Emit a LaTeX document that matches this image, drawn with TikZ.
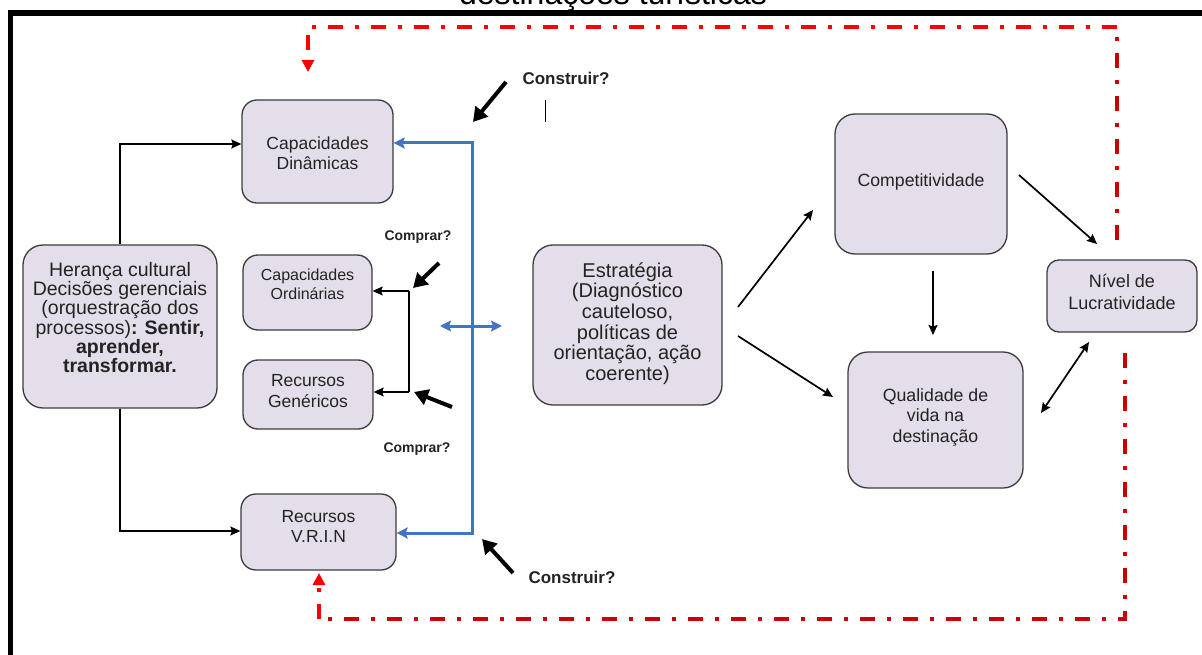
\documentclass[tikz,border=0pt]{standalone}
\usepackage{fontspec}
\setmainfont{Liberation Sans}
\usetikzlibrary{arrows.meta}
\definecolor{boxfill}{RGB}{227,222,234}
\definecolor{boxdraw}{RGB}{60,60,60}
\definecolor{textcol}{RGB}{35,35,35}
\definecolor{bluel}{RGB}{68,114,196}
\definecolor{redA}{RGB}{255,0,0}
\definecolor{redB}{RGB}{204,0,0}
\tikzset{
  box/.style={draw=boxdraw, line width=1.3pt, fill=boxfill, rounded corners=15pt, inner sep=0pt},
  txt/.style={text=textcol, align=center, inner sep=0pt},
  fs/.style 2 args={font=\fontsize{#1}{#2}\selectfont},
  thinarrow/.style={line width=1.7pt, -{Stealth[length=10pt,width=9pt,inset=1.5pt]}},
  thinline/.style={line width=1.3pt},
  bigarrow/.style={line width=4pt, -{Triangle[length=14pt,width=16pt]}},
  bluearrow/.style={draw=bluel, line width=3pt, {Stealth[length=11pt,width=11pt,inset=2pt]}-{Stealth[length=11pt,width=11pt,inset=2pt]}},
  redline/.style={line width=3.6pt, dash pattern=on 15pt off 12pt on 4pt off 12pt},
  redtip/.style={-{Triangle[length=12pt,width=12pt]}},
  lbl/.style={text=textcol, inner sep=0pt}
}
\begin{document}
\begin{tikzpicture}[x=1pt,y=-1pt]
\useasboundingbox (0,0) rectangle (1202,655);
\clip (0,0) rectangle (1202,655);
\fill[white] (0,0) rectangle (1202,655);

% caption (cut off) and frame
\node[anchor=base, inner sep=0pt, fs={32}{32}] (caption) at (613,5) {destinações turísticas};
\fill[black] (8,10) rectangle (1202,16);
\fill[black] (8,10) rectangle (13,655);

% boxes
\node[box, minimum width=151pt, minimum height=103pt] (capdin) at (317.5,151.5) {};
\node[box, minimum width=129pt, minimum height=75pt] (capord) at (307.5,292.5) {};
\node[box, minimum width=130pt, minimum height=69pt] (recgen) at (308,394.5) {};
\node[box, minimum width=155pt, minimum height=76pt] (vrin) at (318.5,532) {};
\node[box, rounded corners=20pt, minimum width=194pt, minimum height=163pt] (heranca) at (120,326.5) {};
\node[box, rounded corners=20pt, minimum width=189pt, minimum height=160pt] (estr) at (627.5,325) {};
\node[box, rounded corners=20pt, minimum width=172pt, minimum height=140pt] (comp) at (921,184) {};
\node[box, rounded corners=20pt, minimum width=175pt, minimum height=136pt] (qual) at (935.5,420) {};
\node[box, rounded corners=12pt, minimum width=150pt, minimum height=72pt] (nivel) at (1122,296) {};

% box texts
\node[txt, fs={17.5}{20}] (tcapdin) at (317.5,153) {Capacidades\\Dinâmicas};
\node[txt, fs={16}{19}] (tcapord) at (307.5,284.5) {Capacidades\\Ordinárias};
\node[txt, fs={17.5}{21}] (trecgen) at (308,391.5) {Recursos\\Genéricos};
\node[txt, fs={17.5}{20}] (tvrin) at (318.5,526) {Recursos\\V.R.I.N};
\node[txt, fs={19.5}{19.2}] (theranca) at (120,317.5) {Herança cultural\\Decisões gerenciais\\(orquestração dos\\processos)\textbf{: Sentir,}\\\textbf{aprender,}\\\textbf{transformar.}};
\node[txt, fs={20}{20.7}] (testr) at (627.5,323.5) {Estratégia\\(Diagnóstico\\cauteloso,\\políticas de\\orientação, ação\\coerente)};
\node[txt, fs={17.7}{20}] (tcomp) at (921,182) {Competitividade};
\node[txt, fs={17.7}{20.5}] (tqual) at (935.5,417) {Qualidade de\\vida na\\destinação};
\node[txt, fs={18}{22}] (tnivel) at (1122,292) {Nível de\\Lucratividade};

% labels
\node[lbl, font=\fontsize{14}{16}\selectfont\bfseries] (comprar1) at (418,237) {Comprar?};
\node[lbl, font=\fontsize{14}{16}\selectfont\bfseries] (comprar2) at (417,449) {Comprar?};
\node[lbl, font=\fontsize{17}{19}\selectfont\bfseries] (construir1) at (566,78) {Construir?};
\node[lbl, font=\fontsize{17}{19}\selectfont\bfseries] (construir2) at (572,577) {Construir?};

% coordinates
\coordinate (cursorT) at (545,100);
\coordinate (cursorB) at (545,122);
\coordinate (bluex) at (472,330);
\coordinate (bl) at (440,326);
\coordinate (br) at (502,326);
\coordinate (brT) at (409,291);
\coordinate (brB) at (409,392);
\coordinate (kc1s) at (439,263); \coordinate (kc1e) at (413,288);
\coordinate (kc2s) at (452,407); \coordinate (kc2e) at (414,392);
\coordinate (ks1s) at (506,82);  \coordinate (ks1e) at (473,122);
\coordinate (ks2s) at (513,573); \coordinate (ks2e) at (482,539);
\coordinate (e1s) at (738,307);  \coordinate (e1e) at (813,210);
\coordinate (e2s) at (738,336);  \coordinate (e2e) at (833,397);
\coordinate (c1s) at (933,271);  \coordinate (c1e) at (933,335);
\coordinate (c2s) at (1019,175); \coordinate (c2e) at (1097,244);
\coordinate (q1s) at (1041,413); \coordinate (q1e) at (1089,342);
\coordinate (r1) at (1117,240);
\coordinate (r2) at (1117,27);
\coordinate (r3) at (308,27);
\coordinate (r4) at (308,72);
\coordinate (s1) at (1125,353);
\coordinate (s2) at (1125,619);
\coordinate (s3) at (319,619);
\coordinate (s4) at (319,573);

% cursor mark
\draw[line width=1pt] (cursorT) -- (cursorB);

% Herança connectors
\draw[thinarrow, line width=1.3pt] (heranca.north) |- ([yshift=7.5pt]capdin.west);
\draw[thinarrow, line width=1.3pt] (heranca.south) |- ([yshift=1pt]vrin.west);

% blue connectors
\draw[bluearrow] ([yshift=8.5pt]capdin.east) -| (bluex) |- ([yshift=-1pt]vrin.east);
\draw[bluearrow] (bl) -- (br);

% bracket
\draw[thinline] (brT) -- (brB);
\draw[thinarrow, line width=1.3pt] (brT) -- (capord.east |- brT);
\draw[thinarrow, line width=1.3pt] (brB) -- (recgen.east |- brB);

% thick arrows
\draw[bigarrow] (kc1s) -- (kc1e);
\draw[bigarrow] (kc2s) -- (kc2e);
\draw[bigarrow] (ks1s) -- (ks1e);
\draw[bigarrow] (ks2s) -- (ks2e);

% right side arrows
\draw[thinarrow] (e1s) -- (e1e);
\draw[thinarrow] (e2s) -- (e2e);
\draw[thinarrow] (c1s) -- (c1e);
\draw[thinarrow] (c2s) -- (c2e);
\draw[thinarrow, {Stealth[length=10pt,width=9pt,inset=1.5pt]}-{Stealth[length=10pt,width=9pt,inset=1.5pt]}] (q1s) -- (q1e);

% red feedback loops
\draw[redline, redB] (r1) -- (r2);
\draw[redline, redA, redtip] (r2) -- (r3) -- (r4);
\draw[redline, redB] (s1) -- (s2) -- (s3);
\draw[redline, redA, redtip] (s3) -- (s4);
\end{tikzpicture}
\end{document}
